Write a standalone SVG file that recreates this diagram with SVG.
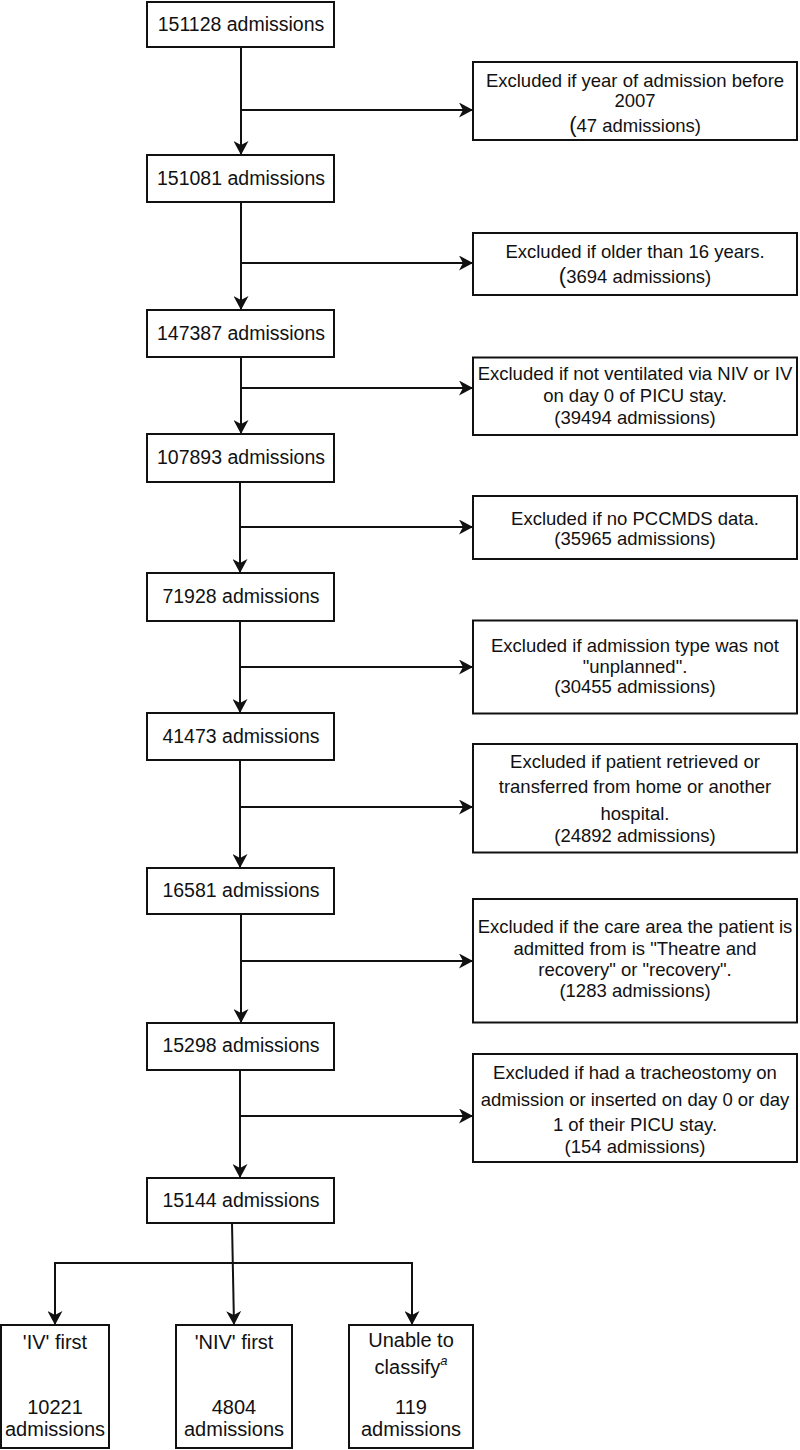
<svg xmlns="http://www.w3.org/2000/svg" width="800" height="1450" viewBox="0 0 800 1450">
<style>
.box{fill:#fff;stroke:#111;stroke-width:2}
.t{font-family:"Liberation Sans",Arial,Helvetica,sans-serif;fill:#111;text-anchor:middle}
.m{font-size:19.5px}
.e{font-size:18.5px}
.b{font-size:20px}
.c{fill:none;stroke:#111;stroke-width:2}
</style>
<defs>
<marker id="arr" markerUnits="userSpaceOnUse" viewBox="0 0 14 15" refX="14" refY="7.5" markerWidth="14" markerHeight="15" orient="auto">
<path d="M0,0 L14,7.5 L0,15 L4,7.5 z" fill="#111"/>
</marker>
</defs>
<rect width="800" height="1450" fill="#fff"/>
<g id="connectors">
<path class="c" d="M241,47 V155" marker-end="url(#arr)"/>
<path class="c" d="M241,110 H473" marker-end="url(#arr)"/>
<path class="c" d="M241,202 V310" marker-end="url(#arr)"/>
<path class="c" d="M241,263 H473" marker-end="url(#arr)"/>
<path class="c" d="M241,357 V434" marker-end="url(#arr)"/>
<path class="c" d="M241,388 H473" marker-end="url(#arr)"/>
<path class="c" d="M240,482 V573" marker-end="url(#arr)"/>
<path class="c" d="M240,527 H473" marker-end="url(#arr)"/>
<path class="c" d="M240,621 V713" marker-end="url(#arr)"/>
<path class="c" d="M240,667 H473" marker-end="url(#arr)"/>
<path class="c" d="M240,760 V868" marker-end="url(#arr)"/>
<path class="c" d="M240,807 H473" marker-end="url(#arr)"/>
<path class="c" d="M241,914 V1023" marker-end="url(#arr)"/>
<path class="c" d="M241,961 H473" marker-end="url(#arr)"/>
<path class="c" d="M240,1070 V1178" marker-end="url(#arr)"/>
<path class="c" d="M240,1116 H473" marker-end="url(#arr)"/>
<path class="c" d="M232,1223 L234,1325" marker-end="url(#arr)"/>
<path class="c" d="M55,1325 V1263 H412 V1325" marker-end="url(#arr)"/>
<path class="c" d="M55,1263 V1325" marker-end="url(#arr)"/>
</g>
<g id="n1"><rect class="box" x="147" y="2" width="187" height="45"/><text class="t m" x="241" y="31">151128 admissions</text></g>
<g id="n2"><rect class="box" x="147" y="155" width="187" height="47"/><text class="t m" x="241" y="185">151081 admissions</text></g>
<g id="n3"><rect class="box" x="147" y="310" width="187" height="47"/><text class="t m" x="241" y="340">147387 admissions</text></g>
<g id="n4"><rect class="box" x="147" y="434" width="187" height="48"/><text class="t m" x="241" y="464">107893 admissions</text></g>
<g id="n5"><rect class="box" x="147" y="573" width="187" height="48"/><text class="t m" x="241" y="603">71928 admissions</text></g>
<g id="n6"><rect class="box" x="147" y="713" width="187" height="47"/><text class="t m" x="241" y="743">41473 admissions</text></g>
<g id="n7"><rect class="box" x="147" y="868" width="187" height="46"/><text class="t m" x="241" y="897">16581 admissions</text></g>
<g id="n8"><rect class="box" x="147" y="1023" width="187" height="47"/><text class="t m" x="241" y="1052">15298 admissions</text></g>
<g id="n9"><rect class="box" x="147" y="1178" width="187" height="45"/><text class="t m" x="241" y="1207">15144 admissions</text></g>
<g id="x1"><rect class="box" x="473" y="62" width="324" height="78"/>
<text class="t e" x="635" y="86.5">Excluded if year of admission before</text>
<text class="t e" x="635" y="106.5">2007</text>
<text class="t e" x="635" y="131.5"><tspan font-size="22px">(</tspan>47 admissions)</text></g>
<g id="x2"><rect class="box" x="473" y="233" width="324" height="62"/>
<text class="t e" x="635" y="258">Excluded if older than 16 years.</text>
<text class="t e" x="635" y="283"><tspan font-size="22px">(</tspan>3694 admissions)</text></g>
<g id="x3"><rect class="box" x="473" y="357.5" width="324" height="77.5"/>
<text class="t e" x="635" y="379.5">Excluded if not ventilated via NIV or IV</text>
<text class="t e" x="635" y="401.5">on day 0 of PICU stay.</text>
<text class="t e" x="635" y="423.5">(39494 admissions)</text></g>
<g id="x4"><rect class="box" x="473" y="496" width="324" height="63"/>
<text class="t e" x="635" y="524.5">Excluded if no PCCMDS data.</text>
<text class="t e" x="635" y="544.5">(35965 admissions)</text></g>
<g id="x5"><rect class="box" x="473" y="620.5" width="324" height="93"/>
<text class="t e" x="635" y="652">Excluded if admission type was not</text>
<text class="t e" x="635" y="673">"unplanned".</text>
<text class="t e" x="635" y="693">(30455 admissions)</text></g>
<g id="x6"><rect class="box" x="473" y="744" width="324" height="108.5"/>
<text class="t e" x="635" y="768">Excluded if patient retrieved or</text>
<text class="t e" x="635" y="793">transferred from home or another</text>
<text class="t e" x="635" y="819.5">hospital.</text>
<text class="t e" x="635" y="841.5">(24892 admissions)</text></g>
<g id="x7"><rect class="box" x="473" y="899" width="324" height="123.5"/>
<text class="t e" x="635" y="933">Excluded if the care area the patient is</text>
<text class="t e" x="635" y="954.5">admitted from is "Theatre and</text>
<text class="t e" x="635" y="976">recovery" or "recovery".</text>
<text class="t e" x="635" y="996.5">(1283 admissions)</text></g>
<g id="x8"><rect class="box" x="473" y="1054" width="324" height="108"/>
<text class="t e" x="635" y="1078.5">Excluded if had a tracheostomy on</text>
<text class="t e" x="635" y="1105.5">admission or inserted on day 0 or day</text>
<text class="t e" x="635" y="1130.5">1 of their PICU stay.</text>
<text class="t e" x="635" y="1153">(154 admissions)</text></g>
<g id="r1"><rect class="box" x="1" y="1325" width="108" height="123"/>
<text class="t b" x="55" y="1349">'IV' first</text>
<text class="t b" x="55" y="1414">10221</text>
<text class="t b" x="55" y="1435.5">admissions</text></g>
<g id="r2"><rect class="box" x="176" y="1325" width="116" height="123"/>
<text class="t b" x="234" y="1349">'NIV' first</text>
<text class="t b" x="234" y="1414">4804</text>
<text class="t b" x="234" y="1435.5">admissions</text></g>
<g id="r3"><rect class="box" x="349" y="1325" width="124" height="123"/>
<text class="t b" x="411" y="1346.5">Unable to</text>
<text class="t b" x="411" y="1374">classify<tspan font-size="13px" font-style="italic" dy="-9">a</tspan></text>
<text class="t b" x="411" y="1414">119</text>
<text class="t b" x="411" y="1435.5">admissions</text></g>
</svg>
